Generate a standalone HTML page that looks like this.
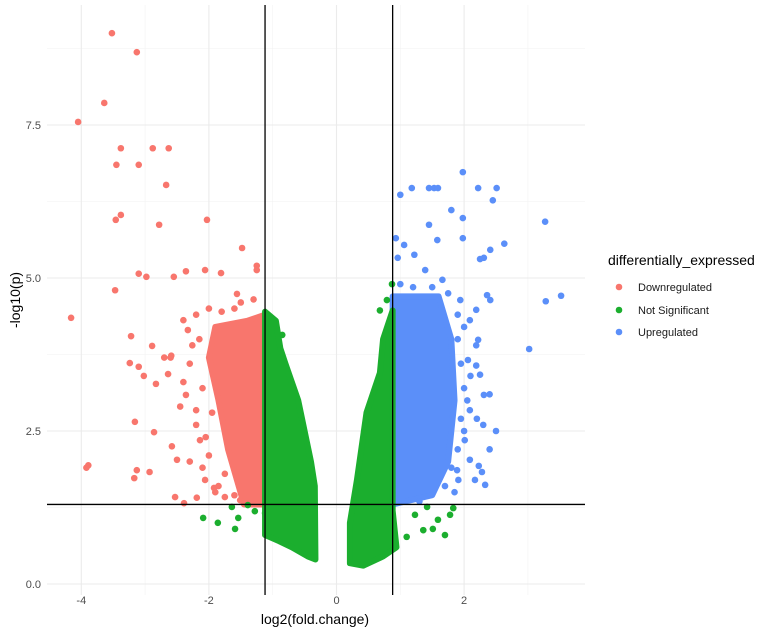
<!DOCTYPE html>
<html><head><meta charset="utf-8">
<style>
html,body{margin:0;padding:0;background:#fff;}
svg{display:block;font-family:"Liberation Sans",Arial,sans-serif;}
</style></head>
<body>
<svg id="chart" width="777" height="632" viewBox="0 0 777 632">
<g id="grid"></g>
<g id="areas"></g>
<g id="points"></g>
<g id="refs"></g>
<g id="axes"></g>
<text x="315" y="624" text-anchor="middle" font-size="14" fill="#000">log2(fold.change)</text>
<text transform="translate(20,300) rotate(-90)" text-anchor="middle" font-size="14" fill="#000">-log10(p)</text>
<g>
<text x="608" y="265" font-size="14" fill="#000">differentially_expressed</text>
<g><circle cx="619" cy="287" r="3.3" fill="#F8766D"/><text x="638" y="291" font-size="11" fill="#1a1a1a">Downregulated</text></g>
<g><circle cx="619" cy="310" r="3.3" fill="#1BAE2E"/><text x="638" y="314" font-size="11" fill="#1a1a1a">Not Significant</text></g>
<g><circle cx="619" cy="332" r="3.3" fill="#5B8FF9"/><text x="638" y="336" font-size="11" fill="#1a1a1a">Upregulated</text></g>
</g>
</svg>
<script>
// ---- data ----
const xTicks = [-4, -2, 0, 2];
const xMinor = [-3, -1, 1, 3];
const yTicks = [0, 2.5, 5, 7.5];
const yTickLabels = ["0.0", "2.5", "5.0", "7.5"];
const yMinor = [1.25, 3.75, 6.25, 8.75];
const fcThresholds = [-1.12, 0.88];
const pThreshold = 1.3;

// dense regions (outline of overplotted points)
const greenLeftCloud = [[-1.12,4.45],[-0.95,4.3],[-0.88,3.85],[-0.8,3.6],[-0.6,3.0],[-0.5,2.5],[-0.4,2.0],[-0.34,1.6],[-0.33,0.4],[-0.45,0.45],[-0.7,0.6],[-0.9,0.7],[-1.12,0.8]];
const greenRightCloud = [[0.21,0.34],[0.21,1.0],[0.32,1.7],[0.47,2.8],[0.68,3.45],[0.73,4.0],[0.88,4.47],[0.88,1.2],[0.94,0.6],[0.73,0.45],[0.42,0.3]];
const redCloud = [[-1.12,4.4],[-1.4,4.3],[-1.9,4.2],[-2.0,3.7],[-1.85,3.0],[-1.7,2.2],[-1.45,1.3],[-1.12,1.3]];
const blueCloud = [[0.88,4.7],[1.6,4.7],[1.8,4.0],[1.85,3.0],[1.75,2.0],[1.5,1.45],[0.88,1.3]];

const downX = [-3.52,-3.13,-3.64,-4.05,-3.38,-2.88,-2.63,-3.45,-3.1,-2.67,-3.38,-3.46,-2.03,-2.78,-1.48,-1.25,-1.25,-3.1,-2.98,-2.36,-2.06,-1.81,-2.55,-3.47,-4.16,-1.56,-3.22,-2.89,-3.24,-3.1,-3.02,-2.83,-2.59,-2.64,-3.16,-2.86,-2.58,-2.5,-3.13,-2.93,-3.17,-3.89,-3.92,-2.53,-2.39,-2.19,-2.4,-2.33,-2.26,-2.2,-2.14,-2.36,-2.06,-1.92,-1.75,-1.51,
  -2.2,-2.0,-1.8,-1.6,-2.3,-2.4,-2.1,-2.2,-2.0,-2.1,-1.9,-1.6,-2.45,-2.3,-1.85,-1.5,-1.3,-2.6,-2.7,-2.15,-1.95,-2.05,-1.75];
const downY = [9.0,8.69,7.86,7.55,7.12,7.12,7.12,6.85,6.85,6.52,6.03,5.95,5.95,5.87,5.49,5.2,5.13,5.07,5.02,5.11,5.13,5.08,5.02,4.8,4.35,4.74,4.05,3.89,3.61,3.55,3.4,3.27,3.73,3.43,2.65,2.48,2.25,2.03,1.86,1.83,1.73,1.94,1.9,1.42,1.32,1.41,4.31,4.15,3.9,2.84,2.35,3.09,1.7,1.57,1.42,1.37,
  4.4,4.5,4.45,4.5,3.6,3.3,3.2,2.6,2.1,1.9,1.5,1.45,2.9,2.0,1.6,4.6,4.65,3.7,3.7,4.0,2.8,2.4,1.8];

const upX = [1.98,1.18,1.0,1.45,1.53,1.59,2.22,2.51,2.45,1.8,1.98,3.27,1.45,0.93,1.58,1.98,2.63,2.41,2.31,2.25,0.96,1.06,1.22,1.39,1.66,3.52,3.28,2.36,2.41,2.19,2.09,2.22,2.06,3.02,2.25,2.31,2.09,2.01,2.09,2.23,2.28,2.33,2.17,1.89,1.91,2.19,2.19,1.94,
  1.0,1.2,1.5,1.75,1.9,2.0,1.95,2.0,1.95,2.0,1.9,1.7,1.8,1.3,2.1,2.05,2.2,2.3,2.4,2.4,2.5,1.85,1.9];
const upY = [6.73,6.47,6.36,6.47,6.47,6.47,6.47,6.47,6.27,6.11,5.98,5.92,5.87,5.65,5.62,5.65,5.56,5.46,5.33,5.31,5.33,5.54,5.38,5.13,4.97,4.71,4.62,4.72,4.64,4.48,4.31,3.99,3.66,3.84,3.42,3.09,2.84,2.35,2.03,1.93,1.83,1.62,1.7,1.86,1.7,3.57,3.9,4.64,
  4.9,4.85,4.85,4.75,4.4,4.2,3.6,3.2,2.7,2.5,2.2,1.6,1.9,1.35,3.4,3.0,2.7,2.6,2.2,3.1,2.5,1.5,4.0];

const nsX = [-1.12,-2.09,-1.86,-1.59,-1.64,-1.54,-1.39,-1.28,-0.85,0.87,0.68,0.79,1.1,1.36,1.51,1.7,1.59,1.78,1.83,1.23,1.42];
const nsY = [1.16,1.08,1.0,0.9,1.26,1.08,1.29,1.19,4.07,4.9,4.47,4.64,0.77,0.88,0.9,0.8,1.05,1.13,1.24,1.13,1.26];

// ---- scales ----
const X0 = 336.5, XS = 63.8, Y0 = 584, YS = 61.2;
const PL = 47, PR = 585, PT = 5, PB = 595;
const sx = v => X0 + v * XS;
const sy = v => Y0 - v * YS;
const NS = "http://www.w3.org/2000/svg";
function mk(tag, attrs, parent) {
  const e = document.createElementNS(NS, tag);
  for (const k in attrs) e.setAttribute(k, attrs[k]);
  parent.appendChild(e);
  return e;
}
const grid = document.getElementById('grid');
xMinor.forEach(v => { const l = mk('line', {x1:sx(v),x2:sx(v),y1:PT,y2:PB,stroke:'#f2f2f2','stroke-width':0.6}, grid);
  
   });
yMinor.forEach(v => { const l = mk('line', {x1:PL,x2:PR,y1:sy(v),y2:sy(v),stroke:'#f2f2f2','stroke-width':0.6}, grid);
  
   });
xTicks.forEach(v => { const l = mk('line', {x1:sx(v),x2:sx(v),y1:PT,y2:PB,stroke:'#ebebeb','stroke-width':1.1}, grid);
  
   });
yTicks.forEach(v => { const l = mk('line', {x1:PL,x2:PR,y1:sy(v),y2:sy(v),stroke:'#ebebeb','stroke-width':1.1}, grid);
  
   });

const axes = document.getElementById('axes');
xTicks.forEach(v => { const t = mk('text', {x:sx(v),y:604,'text-anchor':'middle','font-size':11,fill:'#4d4d4d'}, axes);
  t.textContent = String(v);
  
   });
yTicks.forEach((v,i) => { const t = mk('text', {x:41,y:sy(v)+4,'text-anchor':'end','font-size':11,fill:'#4d4d4d'}, axes);
  t.textContent = yTickLabels[i];
  
   });

const areas = document.getElementById('areas');
function cloud(pts, color, name) {
  const p = mk('polygon', {points: pts.map(q => sx(q[0]) + ',' + sy(q[1])).join(' '), fill: color, stroke: color, 'stroke-width': 6, 'stroke-linejoin': 'round'}, areas);
  
  
}
cloud(redCloud, '#F8766D', 'downregulated-cloud');
cloud(blueCloud, '#5B8FF9', 'upregulated-cloud');
cloud(greenLeftCloud, '#1BAE2E', 'not-significant-cloud-left');
cloud(greenRightCloud, '#1BAE2E', 'not-significant-cloud-right');

const pts = document.getElementById('points');
function series(xs, ys, color, name) {
  xs.forEach((v, i) => {
    const c = mk('circle', {cx: sx(v), cy: sy(ys[i]), r: 3.3, fill: color}, pts);
    
    
  });
}
series(downX, downY, '#F8766D', 'downregulated-point');
series(upX, upY, '#5B8FF9', 'upregulated-point');
series(nsX, nsY, '#1BAE2E', 'not-significant-point');

const refs = document.getElementById('refs');
fcThresholds.forEach(v => { const l = mk('line', {x1:sx(v),x2:sx(v),y1:PT,y2:PB,stroke:'#000','stroke-width':1.3}, refs);
  
   });
const h = mk('line', {x1:PL,x2:PR,y1:sy(pThreshold),y2:sy(pThreshold),stroke:'#000','stroke-width':1.3}, refs);


</script>
</body></html>
